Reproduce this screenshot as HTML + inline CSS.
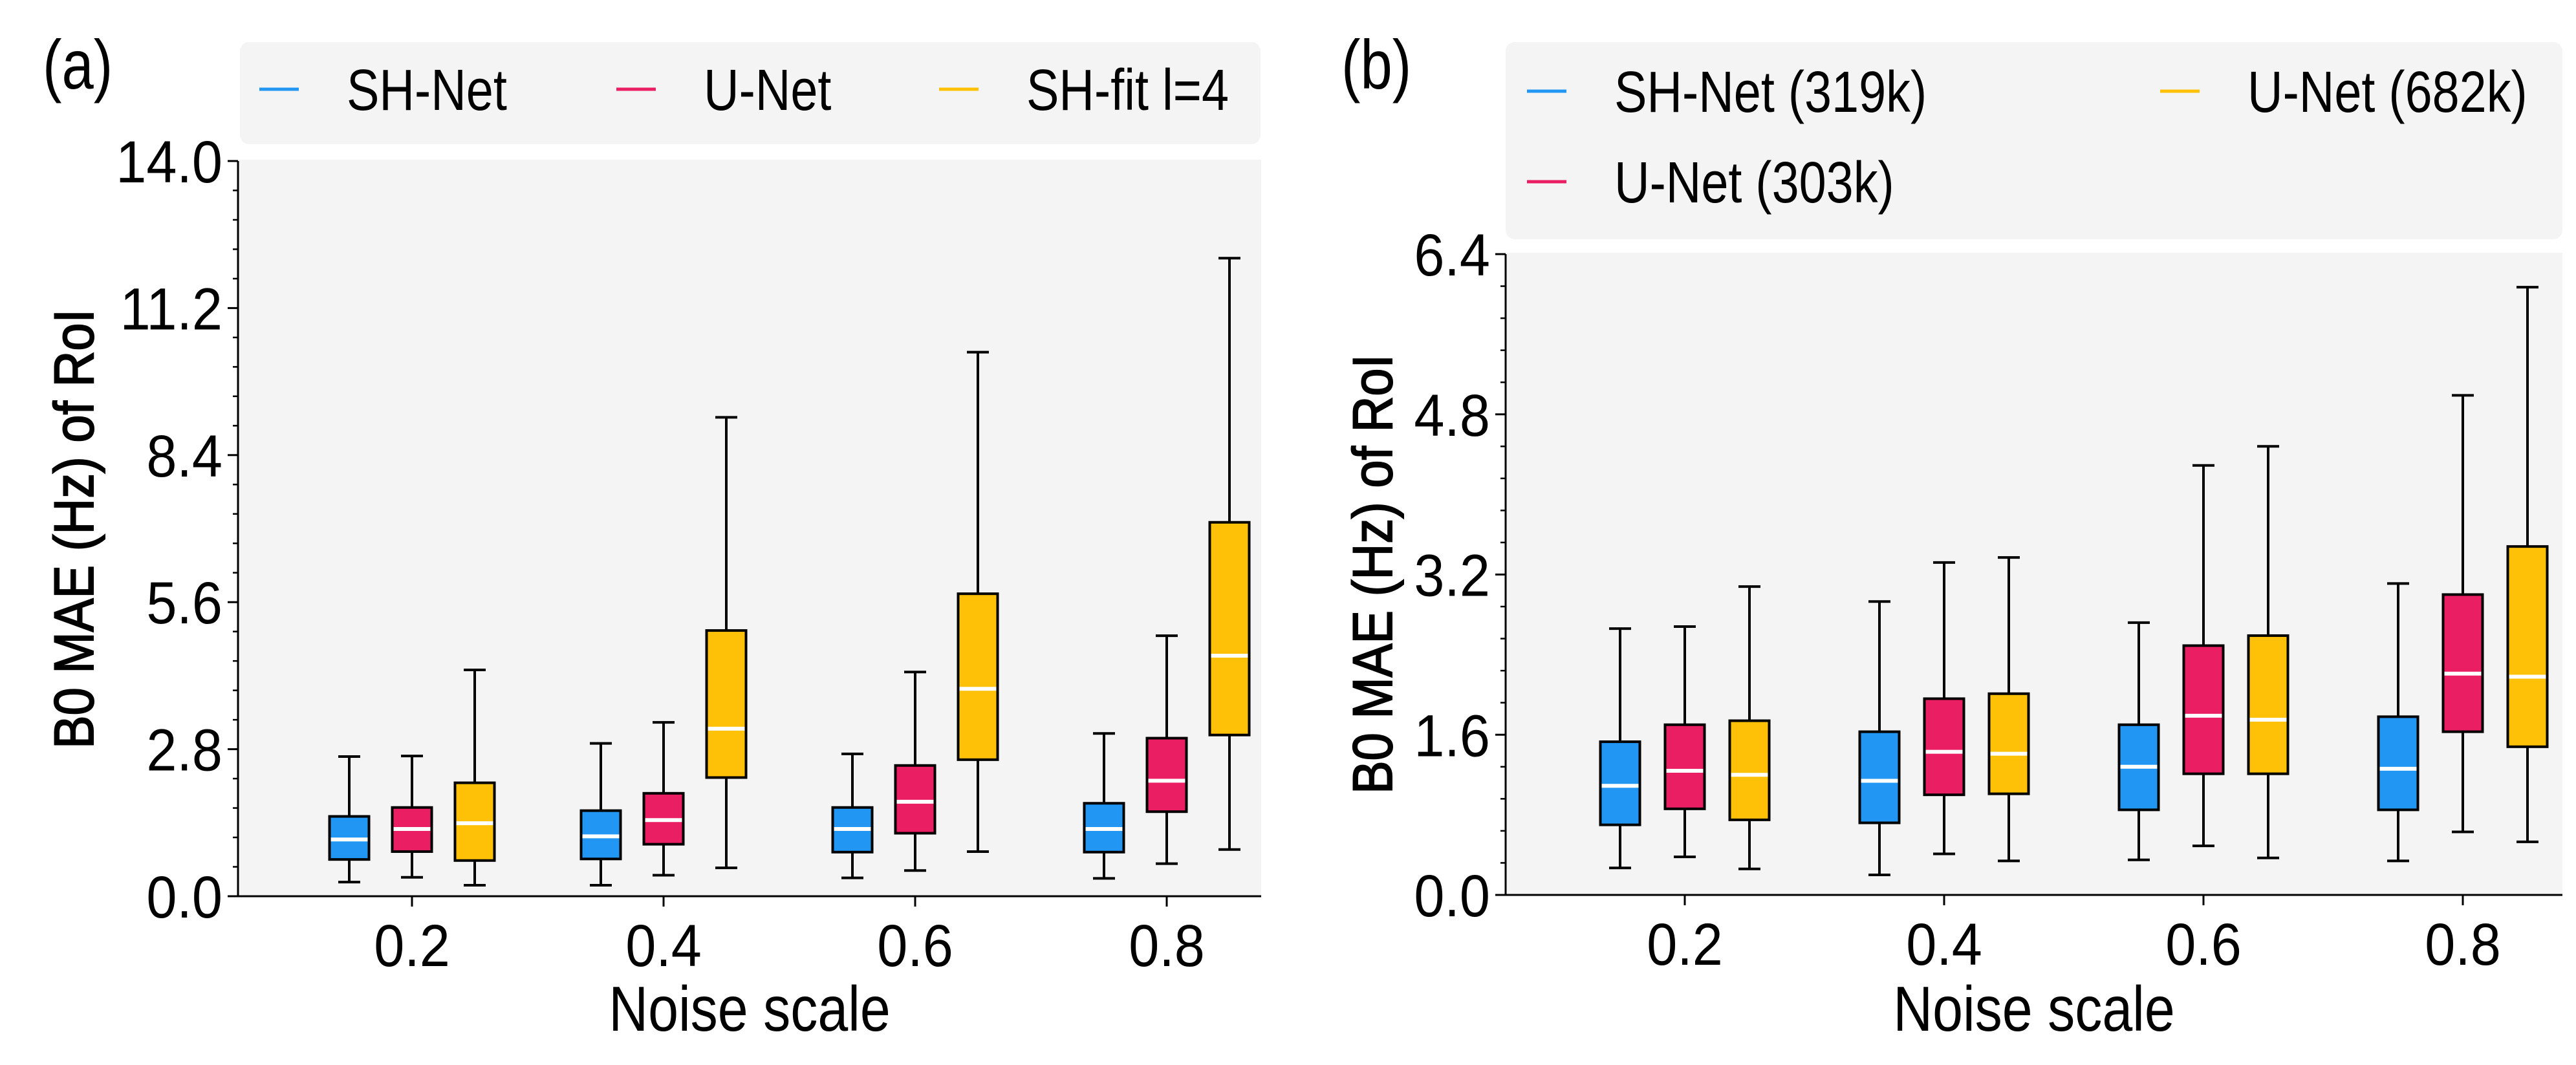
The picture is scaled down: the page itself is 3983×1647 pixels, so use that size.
<!DOCTYPE html>
<html><head><meta charset="utf-8">
<style>
html,body{margin:0;padding:0;background:#fff;}
svg{display:block;}
text{font-family:"Liberation Sans Narrow","Liberation Sans",sans-serif;fill:#000;}
</style></head>
<body>
<svg id="chart" width="3983" height="1647" viewBox="0 0 3983 1647" xmlns="http://www.w3.org/2000/svg"></svg>
<script>
const categories = ["0.2","0.4","0.6","0.8"];
// Panel a: [low, q1, median, q3, high] per category
const aSeriesNames = ["SH-Net","U-Net","SH-fit l=4"];
const aShNet = [[0.27,0.70,1.08,1.52,2.66],[0.21,0.71,1.14,1.63,2.91],[0.35,0.84,1.28,1.69,2.71],[0.34,0.84,1.28,1.77,3.10]];
const aUNet  = [[0.36,0.85,1.28,1.69,2.67],[0.40,0.99,1.45,1.96,3.31],[0.49,1.20,1.80,2.49,4.27],[0.62,1.61,2.20,3.01,4.96]];
const aShFit = [[0.21,0.68,1.39,2.16,4.31],[0.54,2.26,3.19,5.06,9.12],[0.85,2.60,3.95,5.76,10.36],[0.89,3.07,4.58,7.12,12.15]];
const aTicks = ["0.0","2.8","5.6","8.4","11.2","14.0"];
// Panel b
const bSeriesNames = ["SH-Net (319k)","U-Net (303k)","U-Net (682k)"];
const bShNet = [[0.27,0.70,1.09,1.53,2.66],[0.20,0.72,1.14,1.63,2.93],[0.35,0.85,1.28,1.70,2.72],[0.34,0.85,1.26,1.78,3.11]];
const bUNet3 = [[0.38,0.86,1.24,1.70,2.68],[0.41,1.00,1.43,1.96,3.32],[0.49,1.21,1.79,2.49,4.29],[0.63,1.63,2.21,3.00,4.99]];
const bUNet6 = [[0.26,0.75,1.20,1.74,3.08],[0.34,1.01,1.41,2.01,3.37],[0.37,1.21,1.75,2.59,4.48],[0.53,1.48,2.18,3.48,6.07]];
const bTicks = ["0.0","1.6","3.2","4.8","6.4"];

const colors = ["#2196f3","#e91e63","#ffc107"];
const NS = "http://www.w3.org/2000/svg";
const svg = document.getElementById("chart");
function mk(tag, attrs, parent){const e=document.createElementNS(NS,tag);for(const k in attrs)e.setAttribute(k,attrs[k]);(parent||svg).appendChild(e);return e;}
function txt(parent,x,y,size,anchor,str,sx){
  const t = mk("text",{x:0,y:0,"font-size":size,"text-anchor":anchor,transform:`translate(${x},${y}) scale(${sx||0.8},1)`},parent);
  t.textContent = str;
  return t;
}

function drawPanel(p){
  const g = mk("g",{});
  
  
  const y = v => p.y0 - (v/p.ymax)*(p.y0-p.y1);
  const x = i => p.xFirst + i*p.xStep;
  const bg = mk("rect",{x:p.left,y:p.y1-2,width:p.right-p.left,height:p.y0-p.y1+2,fill:"#f4f4f4"},g);
  
  
  const lg = mk("rect",{x:p.lg[0],y:p.lg[1],width:p.lg[2],height:p.lg[3],rx:14,fill:"#f4f4f4"},g);
  
  
  p.names.forEach((n,k)=>{
    const pos = p.legPos[k];
    const l = mk("line",{x1:pos[0],x2:pos[0]+61,y1:pos[1],y2:pos[1],stroke:colors[k],"stroke-width":5},g);
    
    
    const t = txt(g,pos[0]+135,pos[1]+32,90,"start",n,0.84);
    
    
  });
  const nt = p.ticks.length;
  const step = p.ymax/(nt-1);
  for(let i=0;i<nt;i++){
    const v = i*step, yy=y(v);
    mk("line",{x1:p.left-16,x2:p.left,y1:yy,y2:yy,stroke:"#000","stroke-width":3},g);
    if(i<nt-1) for(let m=1;m<5;m++){const ym=y(v+step*m/5);mk("line",{x1:p.left-8,x2:p.left,y1:ym,y2:ym,stroke:"#000","stroke-width":2.5},g);}
    const t = txt(g,p.left-24,yy+33,92,"end",p.ticks[i],0.92);
    
    
  }
  categories.forEach((c,i)=>{
    mk("line",{x1:x(i),x2:x(i),y1:p.y0,y2:p.y0+16,stroke:"#000","stroke-width":3},g);
    const t = txt(g,x(i),p.y0+108,92,"middle",c,0.92);
    
    
  });
  p.series.forEach((s,k)=>{
    s.forEach((d,i)=>{
      const cx = x(i) + (k-1)*p.off, w=61, cap=34;
      const bx = mk("g",{},g);
      
      
      mk("line",{x1:cx,x2:cx,y1:y(d[0]),y2:y(d[1]),stroke:"#000","stroke-width":4},bx);
      mk("line",{x1:cx,x2:cx,y1:y(d[3]),y2:y(d[4]),stroke:"#000","stroke-width":4},bx);
      mk("line",{x1:cx-cap/2,x2:cx+cap/2,y1:y(d[0]),y2:y(d[0]),stroke:"#000","stroke-width":4},bx);
      mk("line",{x1:cx-cap/2,x2:cx+cap/2,y1:y(d[4]),y2:y(d[4]),stroke:"#000","stroke-width":4},bx);
      mk("rect",{x:cx-w/2,y:y(d[3]),width:w,height:y(d[1])-y(d[3]),fill:colors[k],stroke:"#000","stroke-width":4},bx);
      mk("line",{x1:cx-w/2+2,x2:cx+w/2-2,y1:y(d[2]),y2:y(d[2]),stroke:"#fff","stroke-width":6},bx);
    });
  });
  mk("line",{x1:p.left,x2:p.left,y1:p.y1,y2:p.y0+1.5,stroke:"#000","stroke-width":3},g);
  mk("line",{x1:p.left-1.5,x2:p.right,y1:p.y0,y2:p.y0,stroke:"#000","stroke-width":3},g);
  const xl = txt(g,(p.left+p.right)/2,1594,98,"middle","Noise scale",0.86);
  
  
  const yl = mk("text",{x:0,y:0,"font-size":86,"text-anchor":"middle",stroke:"#000","stroke-width":2,transform:`translate(${p.ylx},${p.yly}) rotate(-90)`,textLength:680,lengthAdjust:"spacingAndGlyphs"},g);
  yl.textContent = "B0 MAE (Hz) of RoI";
  
  
  const pl = txt(g,p.plx,137,108,"start",p.label,0.82);
  
  
}

drawPanel({name:"panel-a",label:"(a)",plx:66,left:368,right:1950,y0:1386,y1:249,ymax:14.0,ticks:aTicks,
  xFirst:637,xStep:389,off:97,series:[aShNet,aUNet,aShFit],names:aSeriesNames,
  lg:[371,65,1578,158],legPos:[[401,138],[953,138],[1452,138]],ylx:144,yly:818});
drawPanel({name:"panel-b",label:"(b)",plx:2074,left:2328,right:3962,y0:1384,y1:393,ymax:6.4,ticks:bTicks,
  xFirst:2605,xStep:401,off:100,series:[bShNet,bUNet3,bUNet6],names:bSeriesNames,
  lg:[2328,65,1634,305],legPos:[[2361,141],[2361,281],[3340,141]],ylx:2152,yly:888});
</script>
</body></html>
